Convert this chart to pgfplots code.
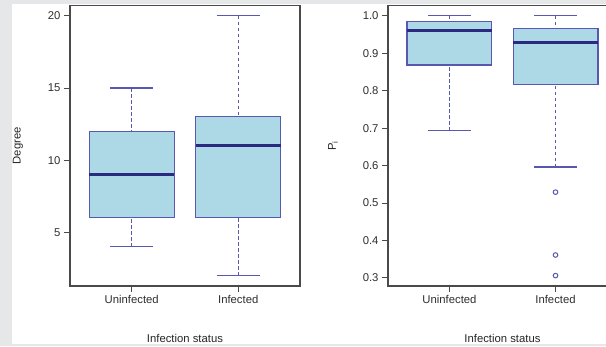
\documentclass[border=0pt]{standalone}
\usepackage{fontspec}
\setmainfont{Liberation Sans}
\usepackage{pgfplots}
\pgfplotsset{compat=1.18}
\usepgfplotslibrary{statistics}
\definecolor{bggray}{HTML}{E6E7E9}
\definecolor{bordblue}{HTML}{5858B0}
\definecolor{medblue}{HTML}{2A2A80}
\definecolor{boxfill}{HTML}{ADD8E6}
\definecolor{axgray}{HTML}{4A4A4A}
\pgfplotsset{
  rboxes/.style={
    scale only axis,
    width=230pt, height=280.5pt,
    xmin=0.42, xmax=2.58,
    xtick={1,2}, xticklabels={Uninfected,Infected},
    tick align=outside,
    major tick length=6pt,
    axis line style={axgray, line width=1.1pt},
    tick style={axgray, line width=0.9pt},
    xtick pos=bottom, ytick pos=left,
    /pgf/number format/assume math mode=true,
    tick label style={font=\fontsize{11.3}{13}\selectfont, color=black!82},
    label style={font=\fontsize{11.3}{13}\selectfont, color=black!85},
    yticklabel style={anchor=east},
    xlabel style={at={(axis description cs:0.5,0)}, anchor=center, yshift=-52pt},
    boxplot/draw direction=y,
    boxplot/box extend=0.8,
    boxplot/whisker extend=0.4,
    boxplot/every box/.style={draw=bordblue, fill=boxfill, line width=1.2pt},
    boxplot/every median/.style={draw=medblue, line width=2.8pt},
    boxplot/draw/lower whisker/.code={%
      \draw[bordblue, line width=1.2pt, dash pattern=on 3.5pt off 2.5pt]
        (boxplot cs:\pgfplotsboxplotvalue{lower whisker}) --
        (boxplot cs:\pgfplotsboxplotvalue{lower quartile});
      \draw[bordblue, line width=1.2pt]
        (boxplot whisker cs:\pgfplotsboxplotvalue{lower whisker},0) --
        (boxplot whisker cs:\pgfplotsboxplotvalue{lower whisker},1);
    },
    boxplot/draw/upper whisker/.code={%
      \draw[bordblue, line width=1.2pt, dash pattern=on 3.5pt off 2.5pt]
        (boxplot cs:\pgfplotsboxplotvalue{upper whisker}) --
        (boxplot cs:\pgfplotsboxplotvalue{upper quartile});
      \draw[bordblue, line width=1.2pt]
        (boxplot whisker cs:\pgfplotsboxplotvalue{upper whisker},0) --
        (boxplot whisker cs:\pgfplotsboxplotvalue{upper whisker},1);
    },
  }
}
\begin{document}
\begin{tikzpicture}[x=1pt,y=1pt]
\useasboundingbox (0,0) rectangle (606,346);
\clip (0,0) rectangle (606,346);
\fill[bggray] (0,0) rectangle (606,346);
\fill[white] (12,2) rectangle (606,342);

% Left panel: Degree
\begin{axis}[rboxes,
  at={(70pt,60pt)}, anchor=south west,
  ymin=1.28, ymax=20.72,
  ytick={5,10,15,20},
  xlabel={Infection status},
  ylabel={Degree},
  ylabel style={at={(axis description cs:-0.226,0.5)}, anchor=center},
]
\addplot[boxplot prepared={lower whisker=4, lower quartile=6, median=9,
  upper quartile=12, upper whisker=15, draw position=1}] coordinates {};
\addplot[boxplot prepared={lower whisker=2, lower quartile=6, median=11,
  upper quartile=13, upper whisker=20, draw position=2}] coordinates {};
\end{axis}

% Right panel: P_i
\begin{axis}[rboxes,
  at={(388pt,60pt)}, anchor=south west,
  width=229pt,
  ymin=0.2782, ymax=1.0278,
  ytick={0.3,0.4,0.5,0.6,0.7,0.8,0.9,1.0},
  yticklabel style={/pgf/number format/.cd, fixed, fixed zerofill, precision=1},
  xlabel={Infection status},
  ylabel={P\textsubscript{i}},
  ylabel style={at={(axis description cs:-0.240,0.5)}, anchor=center},
]
\addplot[boxplot prepared={lower whisker=0.693, lower quartile=0.869, median=0.960,
  upper quartile=0.986, upper whisker=1.0, draw position=1}] coordinates {};
\addplot[boxplot prepared={lower whisker=0.596, lower quartile=0.816, median=0.928,
  upper quartile=0.966, upper whisker=1.0, draw position=2}] coordinates {};
\addplot[only marks, mark=o, mark size=2.3pt, mark options={draw=bordblue, line width=1pt}]
  coordinates {(2,0.529) (2,0.361) (2,0.306)};
\end{axis}
\end{tikzpicture}
\end{document}
